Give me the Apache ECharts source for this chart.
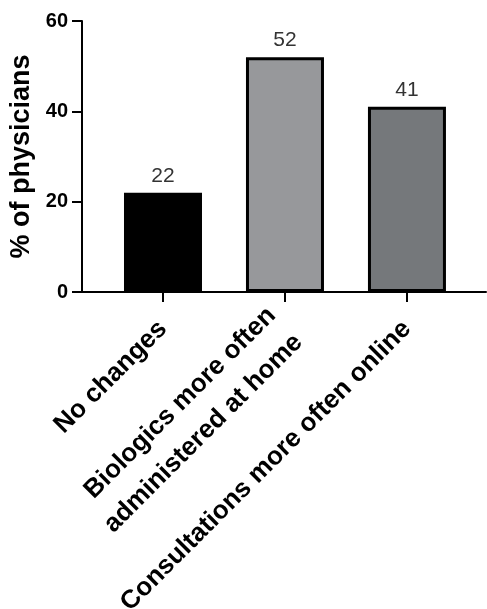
<!DOCTYPE html>
<html>
<head>
<meta charset="utf-8">
<script src="https://cdn.jsdelivr.net/npm/echarts@6/dist/echarts.min.js"></script>
<style>
html,body{margin:0;padding:0;background:#fff;}
#chart{width:487px;height:609px;}
</style>
</head>
<body>
<div id="chart"></div>
<script>
const categories = ['No changes', 'Biologics more often\nadministered at home', 'Consultations more often online'];
const values = [22, 52, 41];
const barColors = ['#000000', '#97989b', '#75787b'];
const yTicks = [0, 20, 40, 60];
const yAxisName = '% of physicians';

const chart = echarts.init(document.getElementById('chart'), null, {renderer: 'canvas'});
const font = 'Liberation Sans, Arial, Helvetica, sans-serif';
chart.setOption({
  animation: false,
  backgroundColor: '#ffffff',
  grid: {left: 82, right: 1, top: 21, bottom: 317, containLabel: false, outerBoundsMode: 'none'},
  xAxis: {
    type: 'value',
    min: -0.664,
    max: 2.648,
    splitLine: {show: false},
    axisLine: {show: true, onZero: false, lineStyle: {color: '#000', width: 2}},
    axisTick: {show: true, customValues: categories.map((c, i) => i), length: 10, lineStyle: {color: '#000', width: 2}},
    axisLabel: {
      customValues: categories.map((c, i) => i),
      formatter: v => categories[Math.round(v)] || '',
      rotate: 45,
      margin: 33,
      color: '#000',
      fontFamily: font,
      fontWeight: 'bold',
      fontSize: 26,
      lineHeight: 38
    }
  },
  yAxis: {
    type: 'value',
    min: yTicks[0],
    max: yTicks[yTicks.length - 1],
    interval: 20,
    name: yAxisName,
    nameLocation: 'middle',
    nameGap: 40,
    nameTextStyle: {color: '#000', fontFamily: font, fontWeight: 'bold', fontSize: 27},
    splitLine: {show: false},
    axisLine: {show: true, onZero: false, lineStyle: {color: '#000', width: 2}},
    axisTick: {show: true, length: 10, lineStyle: {color: '#000', width: 2}},
    axisLabel: {color: '#000', fontFamily: font, fontWeight: 'bold', fontSize: 20, margin: 14}
  },
  series: [{
    type: 'bar',
    barWidth: 78,
    data: values.map((v, i) => ({value: [i, v], itemStyle: {color: barColors[i]}})),
    itemStyle: {borderColor: '#000', borderWidth: 3},
    label: {
      show: true,
      position: 'top',
      distance: 6,
      color: '#333',
      fontFamily: font,
      fontSize: 21,
      formatter: p => p.value[1]
    }
  }]
});
</script>
</body>
</html>
